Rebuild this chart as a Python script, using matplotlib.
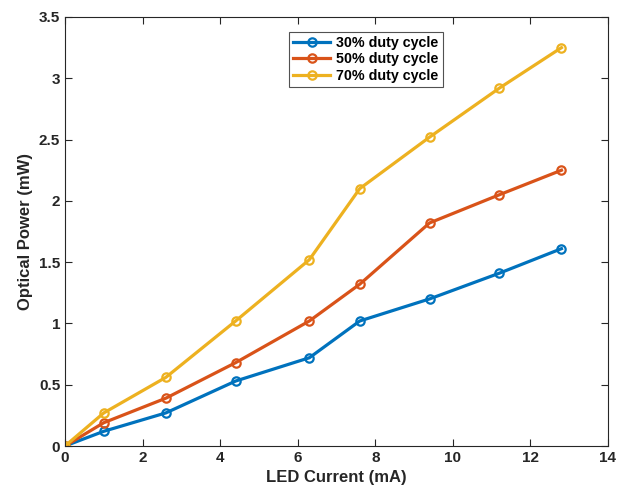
import matplotlib
matplotlib.use("Agg")
import matplotlib.pyplot as plt

plt.rcParams['font.family'] = ['Liberation Sans', 'DejaVu Sans']
plt.rcParams['font.weight'] = 'bold'

current = [0, 1.0, 2.6, 4.4, 6.3, 7.6, 9.4, 11.2, 12.8]
duty30 = [0, 0.12, 0.27, 0.53, 0.72, 1.02, 1.20, 1.41, 1.61]
duty50 = [0, 0.19, 0.39, 0.68, 1.02, 1.32, 1.82, 2.05, 2.25]
duty70 = [0, 0.27, 0.56, 1.02, 1.52, 2.10, 2.52, 2.92, 3.25]
labels = ['30% duty cycle', '50% duty cycle', '70% duty cycle']
colors = ['#0072BD', '#D95319', '#EDB120']

fig = plt.figure(figsize=(6.21, 4.91), dpi=100)
ax = fig.add_axes([65/621, 45/491, 543/621, 429/491])

for ys, lab, c in zip([duty30, duty50, duty70], labels, colors):
    ax.plot(current, ys, '-o', color=c, lw=2.3, ms=6, mfc='none', mew=1.6, label=lab)

ax.set_xlim(0, 14)
ax.set_ylim(0, 3.5)
ax.set_xticks(range(0, 15, 2))
ax.set_yticks([0, 0.5, 1, 1.5, 2, 2.5, 3, 3.5])
ax.set_yticklabels(['0', '0.5', '1', '1.5', '2', '2.5', '3', '3.5'])
ax.tick_params(direction='in', length=5, labelsize=11, width=0.8, colors='#262626', top=True, right=True,
               labeltop=False, labelright=False)
for s in ax.spines.values():
    s.set_color('#262626')
    s.set_linewidth(0.8)
ax.set_xlabel('LED Current (mA)', fontsize=12, fontweight='bold', color='#262626')
ax.set_ylabel('Optical Power (mW)', fontsize=12, fontweight='bold', color='#262626')

leg = ax.legend(loc='upper left', bbox_to_anchor=(0.412, 0.965), fontsize=10.3, frameon=True,
                fancybox=False, edgecolor='#262626', handlelength=2.6, borderpad=0.3,
                labelspacing=0.15, handletextpad=0.4, borderaxespad=0)
leg.get_frame().set_linewidth(0.8)

fig.savefig('out.png', dpi=100)
